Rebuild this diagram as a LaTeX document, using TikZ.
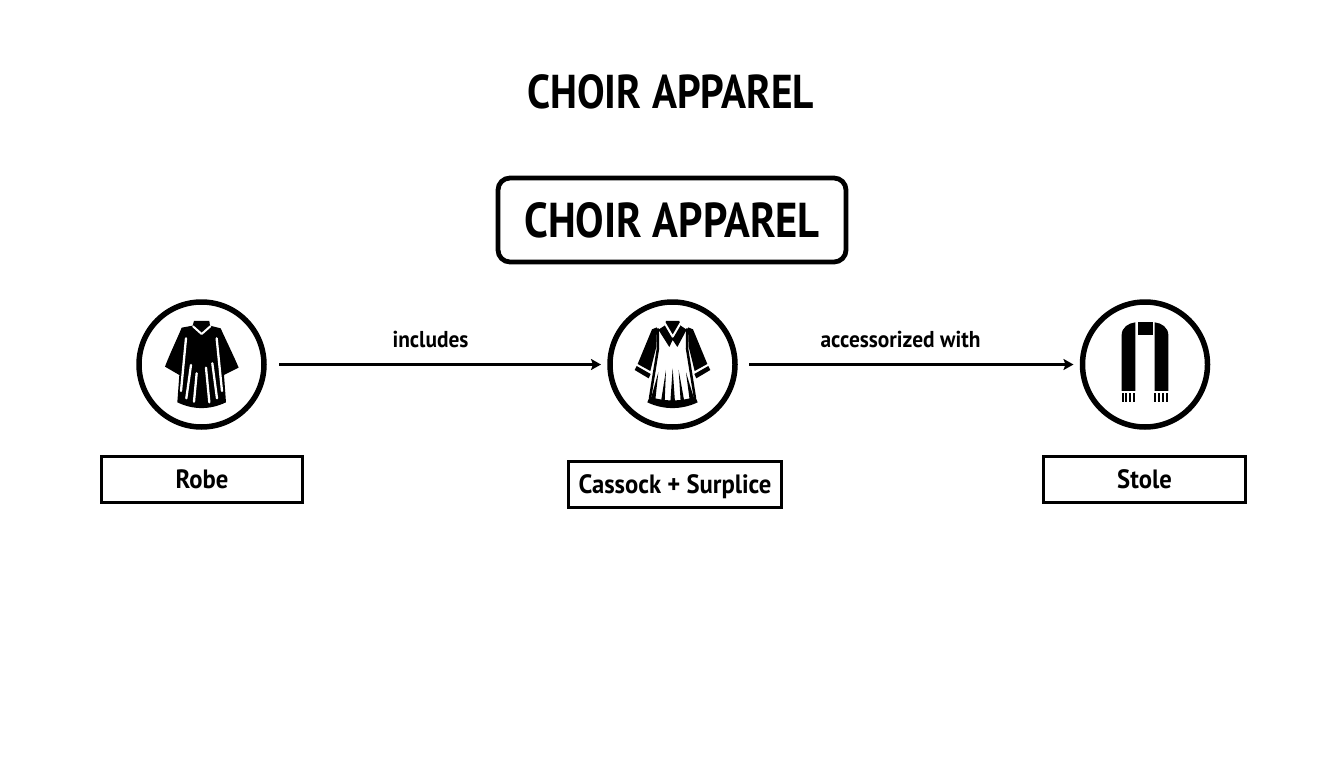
\documentclass[tikz,border=0pt]{standalone}
\usepackage{fontspec}
\setmainfont[FakeStretch=0.93]{PT Sans}
\newfontfamily\condfont[FakeStretch=0.87]{PT Sans}
\usetikzlibrary{arrows.meta}
\newcommand{\lowered}[2]{\raisebox{-#1pt}[0pt][0pt]{#2}}
\tikzset{
 ring/.style={circle,draw=black,line width=5.5pt,minimum size=125pt,inner sep=0pt,outer sep=0pt},
 labelbox/.style={draw=black,line width=3pt,fill=white,inner sep=0pt,minimum height=46pt,font=\fontsize{26.5}{28}\selectfont\bfseries},
 titlebox/.style={draw=black,line width=4.8pt,rounded corners=12pt,minimum width=348pt,minimum height=84pt,inner sep=0pt,font=\condfont\fontsize{49}{52}\selectfont\bfseries},
 flow/.style={draw=black,line width=2.6pt,-{Stealth[length=10pt,width=11pt,inset=2pt]}},
 edgetext/.style={font=\fontsize{23}{26}\selectfont\bfseries,inner sep=0pt},
 ink/.style={fill=black,draw=none},
 cut/.style={draw=white,line width=2.3pt,line cap=round,line join=round},
 icon/.style={x=0.3333pt,y=-0.3333pt}
}
\begin{document}
\begin{tikzpicture}[x=1pt,y=-1pt]
\useasboundingbox (0,0) rectangle (1344,768);
\node[font=\condfont\fontsize{47.5}{50}\selectfont\bfseries,inner sep=0pt] (title) at (670.5,91.5) {CHOIR APPAREL};
\node[titlebox] (root) at (672,220) {\lowered{17.6}{CHOIR APPAREL}};
\node[ring] (c1) at (201.5,364.5) {};
\node[ring] (c2) at (672.5,364.5) {};
\node[ring] (c3) at (1145,364.5) {};
\node[labelbox,minimum width=201pt] (b1) at (202,479) {\lowered{9.6}{Robe}};
\node[labelbox,minimum width=213pt] (b2) at (675,484) {\lowered{9.6}{Cassock + Surplice}};
\node[labelbox,minimum width=202pt] (b3) at (1144.5,479) {\lowered{9.6}{Stole}};
\draw[flow,shorten <=15pt,shorten >=9pt] (c1) -- (c2);
\draw[flow,shorten <=14pt,shorten >=9pt] (c2) -- (c3);
\node[edgetext] (t1) at (430.5,339.5) {includes};
\node[edgetext] (t2) at (900.5,339.5) {accessorized with};
% robe icon
\begin{scope}[shift={(120,285)},icon]
\path[ink] (222,108) -- (268,108) -- (270,122) -- (302,130) .. controls (320,170) and (340,210) .. (356,248) -- (312,270) -- (318,352) .. controls (270,375) and (220,375) .. (172,352) -- (178,270) -- (135,245) .. controls (150,205) and (170,165) .. (185,128) -- (218,122) -- cycle;
\draw[cut,line width=2pt] (219,124) -- (245,147) -- (271,124);
\draw[cut] (198,160) -- (183,318);
\draw[cut] (213,240) -- (199,340);
\draw[cut] (230,265) -- (222,350);
\draw[cut] (258,248) -- (268,352);
\draw[cut] (277,235) -- (291,340);
\draw[cut] (290,160) -- (306,318);
\end{scope}
% cassock + surplice icon
\begin{scope}[shift={(590,285)},icon]
\path[ink] (186,133) -- (201,127) -- (199,185) -- (181,258) -- (143,237) -- cycle;
\path[ink] (140,243) -- (182,267) -- (176,280) -- (134,255) -- cycle;
\path[ink] (309,133) -- (294,127) -- (296,185) -- (314,258) -- (352,237) -- cycle;
\path[ink] (355,243) -- (313,267) -- (319,280) -- (361,255) -- cycle;
\draw[draw=black,line width=2.5pt] (203,130) -- (204,190) -- (180,340);
\draw[draw=black,line width=2.5pt] (292,130) -- (291,190) -- (315,340);
\path[ink] (172,352) .. controls (220,375) and (275,375) .. (323,352) -- (316,335) .. controls (275,350) and (220,350) .. (179,335) -- cycle;
\path[ink] (205,262) -- (183,340) -- (196,345) -- cycle;
\path[ink] (228,255) -- (213,350) -- (224,350) -- cycle;
\path[ink] (248,250) -- (241,352) -- (255,352) -- cycle;
\path[ink] (266,255) -- (272,350) -- (283,350) -- cycle;
\path[ink] (288,262) -- (299,345) -- (312,340) -- cycle;
\path[ink] (228,108) -- (268,108) -- (272,122) -- (290,134) -- (262,186) -- (248,165) -- (238,186) -- (205,134) -- (224,122) -- cycle;
\draw[cut,line width=2pt] (224,114) -- (248,155) -- (272,114);
\end{scope}
% stole icon
\begin{scope}[shift={(1060,285)},icon]
\path[ink] (226,112) -- (226,318) -- (185,318) -- (185,150) .. controls (185,128) and (205,114) .. (226,112) -- cycle;
\path[ink] (284,112) -- (284,318) -- (325,318) -- (325,150) .. controls (325,128) and (305,114) .. (284,112) -- cycle;
\path[ink] (233,112) rectangle (279,150);
\foreach \fx in {188,199,210,223,286,297,308,321}{
  \path[ink] (\fx-3,325) rectangle (\fx+3,352);
}
\end{scope}
\end{tikzpicture}
\end{document}
